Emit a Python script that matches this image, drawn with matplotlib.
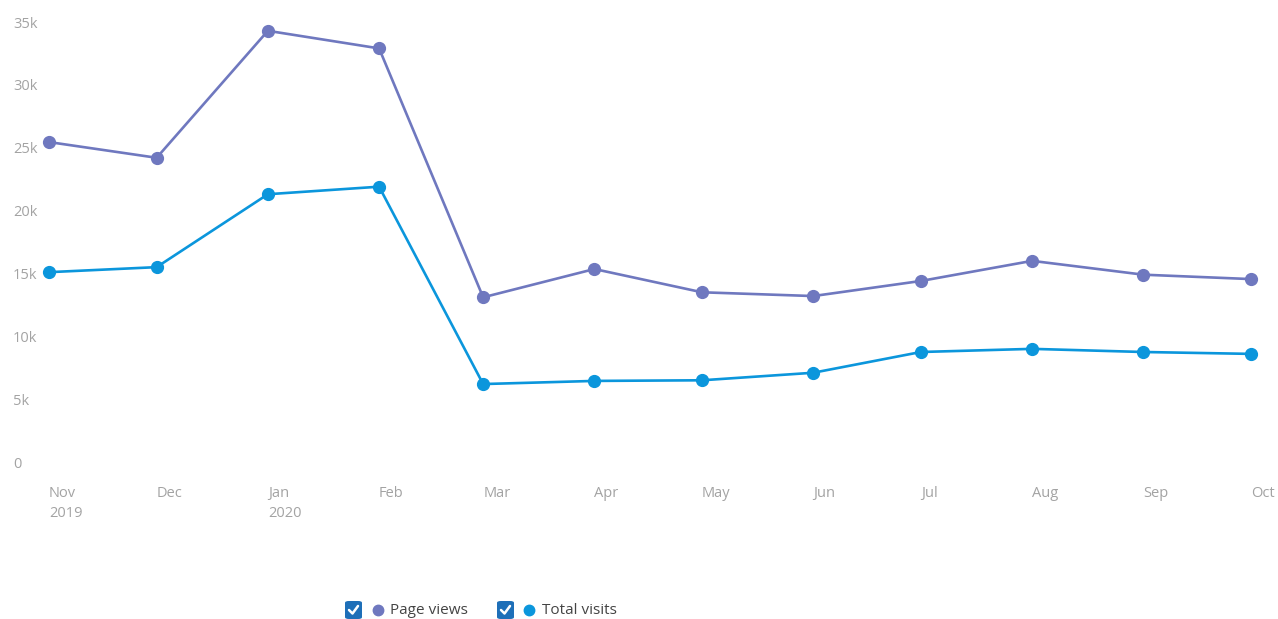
import datetime as dt
import matplotlib.pyplot as plt
import matplotlib.dates as mdates
from matplotlib.patches import FancyBboxPatch
from matplotlib.lines import Line2D

plt.rcParams['font.family'] = ['Open Sans', 'DejaVu Sans']

months = [dt.date(2019, 11, 1), dt.date(2019, 12, 1), dt.date(2020, 1, 1), dt.date(2020, 2, 1),
          dt.date(2020, 3, 1), dt.date(2020, 4, 1), dt.date(2020, 5, 1), dt.date(2020, 6, 1),
          dt.date(2020, 7, 1), dt.date(2020, 8, 1), dt.date(2020, 9, 1), dt.date(2020, 10, 1)]
month_labels = ['Nov\n2019', 'Dec', 'Jan\n2020', 'Feb', 'Mar', 'Apr', 'May', 'Jun',
                'Jul', 'Aug', 'Sep', 'Oct']
page_views = [25450, 24200, 34300, 32900, 13100, 15350, 13500, 13200, 14400, 16000, 14900, 14550]
total_visits = [15100, 15500, 21300, 21900, 6200, 6450, 6500, 7100, 8750, 9000, 8750, 8600]
y_ticks = [0, 5000, 10000, 15000, 20000, 25000, 30000, 35000]
y_labels = ['0', '5k', '10k', '15k', '20k', '25k', '30k', '35k']

PV_COLOR = '#6f78bf'
TV_COLOR = '#0b96dc'
LABEL_COLOR = '#a3a3a3'

W, H = 1278, 619
fig = plt.figure(figsize=(W / 100, H / 100), dpi=100)
ax = fig.add_axes([49 / W, 1 - 462 / H, (1251 - 49) / W, (462 - 22) / H])

for vals, color in [(page_views, PV_COLOR), (total_visits, TV_COLOR)]:
    ax.plot(months, vals, color=color, lw=1.9, marker='o', ms=8.5, clip_on=False, zorder=3)

ax.set_xlim(months[0], months[-1])
ax.set_ylim(0, 35000)
ax.set_yticks(y_ticks)
ax.set_yticklabels(y_labels)
ax.set_xticks(months)
ax.set_xticklabels(month_labels, linespacing=1.5)
ax.tick_params(axis='both', length=0, labelsize=10.5, labelcolor=LABEL_COLOR)
ax.tick_params(axis='y', pad=26)
ax.tick_params(axis='x', pad=17)
for lbl in ax.get_yticklabels():
    lbl.set_ha('left')
for lbl in ax.get_xticklabels():
    lbl.set_ha('left')
for s in ax.spines.values():
    s.set_visible(False)

# legend with checkboxes
def fx(px):
    return px / W

def fy(py):
    return 1 - py / H

for box_x, dot_x, text_x, color, label in [(345, 378, 390, PV_COLOR, 'Page views'),
                                           (497, 529, 542, TV_COLOR, 'Total visits')]:
    fig.patches.append(FancyBboxPatch((fx(box_x), fy(619)), fx(17), 18 / H,
                                      boxstyle='round,pad=0,rounding_size=0.003',
                                      transform=fig.transFigure, facecolor='#1e6fb8',
                                      edgecolor='none'))
    fig.lines.append(Line2D([fx(box_x + 4), fx(box_x + 7.5), fx(box_x + 13)],
                            [fy(610), fy(613.5), fy(606)], transform=fig.transFigure,
                            color='white', lw=1.8, solid_capstyle='round'))
    fig.lines.append(Line2D([fx(dot_x)], [fy(610)], transform=fig.transFigure,
                            marker='o', ms=7.5, color=color, lw=0))
    fig.text(fx(text_x), fy(610), label, fontsize=11, color='#444444', va='center', ha='left')

fig.savefig('out.png', dpi=100, facecolor='white')
